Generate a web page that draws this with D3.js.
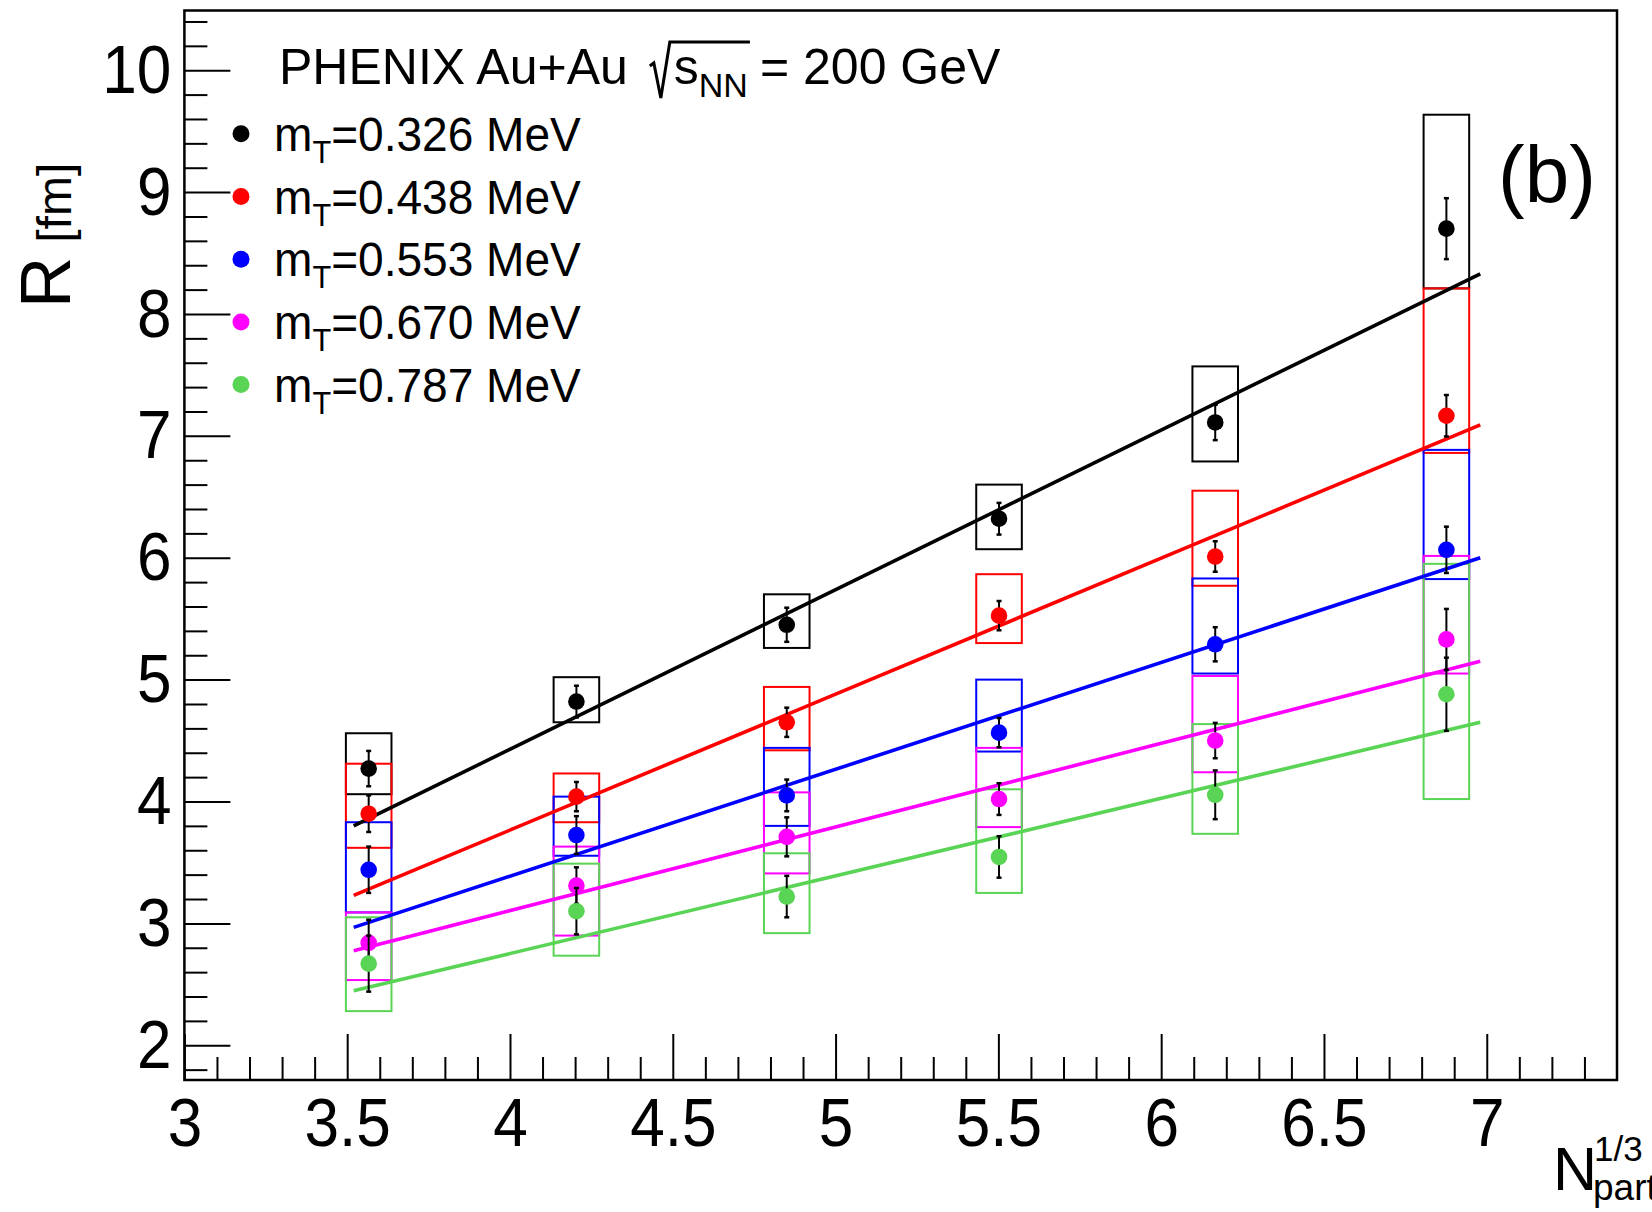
<!DOCTYPE html>
<html><head><meta charset="utf-8">
<script src="https://cdn.jsdelivr.net/npm/d3@7"></script>
<style>body{margin:0;background:#fff}svg{display:block}</style>
</head><body><svg id="c" width="1652" height="1212"></svg>
<script>
// ---------------- data ----------------
const xNpart = [3.566, 4.204, 4.850, 5.502, 6.166, 6.876];
const mTLabels = ["0.326", "0.438", "0.553", "0.670", "0.787"];
const seriesColors = ["#000000", "#ff0000", "#0000ff", "#ff00ff", "#59d454"];

const valBlack = [4.27, 4.82, 5.45, 6.32, 7.11, 8.70];
const errBlack = [0.145, 0.13, 0.14, 0.13, 0.145, 0.25];
const sysLoBlack = [4.06, 4.65, 5.26, 6.07, 6.79, 8.21];
const sysHiBlack = [4.56, 5.02, 5.70, 6.60, 7.57, 9.635];

const valRed = [3.90, 4.04, 4.65, 5.525, 6.01, 7.165];
const errRed = [0.15, 0.12, 0.12, 0.12, 0.125, 0.17];
const sysLoRed = [3.62, 3.83, 4.42, 5.30, 5.77, 6.86];
const sysHiRed = [4.31, 4.23, 4.94, 5.865, 6.55, 8.21];

const valBlue = [3.44, 3.725, 4.05, 4.565, 5.29, 6.065];
const errBlue = [0.19, 0.155, 0.13, 0.12, 0.14, 0.19];
const sysLoBlue = [3.09, 3.555, 3.80, 4.41, 5.05, 5.825];
const sysHiBlue = [3.83, 4.04, 4.44, 5.00, 5.83, 6.885];

const valMagenta = [2.84, 3.31, 3.71, 4.02, 4.50, 5.33];
const errMagenta = [0.19, 0.15, 0.16, 0.13, 0.145, 0.25];
const sysLoMagenta = [2.535, 2.90, 3.41, 3.79, 4.24, 5.05];
const sysHiMagenta = [3.09, 3.63, 4.075, 4.44, 5.03, 6.015];

const valGreen = [2.67, 3.10, 3.22, 3.545, 4.055, 4.88];
const errGreen = [0.23, 0.19, 0.17, 0.17, 0.2, 0.3];
const sysLoGreen = [2.28, 2.735, 2.92, 3.25, 3.735, 4.02];
const sysHiGreen = [3.05, 3.49, 3.575, 4.10, 4.635, 5.95];

const fitX = [3.52, 6.98];
const fitBlack = [3.80, 8.33];
const fitRed = [3.23, 7.09];
const fitBlue = [2.967, 6.00];
const fitMagenta = [2.776, 5.15];
const fitGreen = [2.447, 4.65];

const xTickValues = [3, 3.5, 4, 4.5, 5, 5.5, 6, 6.5, 7];
const xTickLabels = ["3", "3.5", "4", "4.5", "5", "5.5", "6", "6.5", "7"];
const yTickValues = [2, 3, 4, 5, 6, 7, 8, 9, 10];
const yTickLabels = ["2", "3", "4", "5", "6", "7", "8", "9", "10"];

const boxHalfWidth = 0.07;

const series = [
  {val: valBlack, err: errBlack, lo: sysLoBlack, hi: sysHiBlack, fit: fitBlack},
  {val: valRed, err: errRed, lo: sysLoRed, hi: sysHiRed, fit: fitRed},
  {val: valBlue, err: errBlue, lo: sysLoBlue, hi: sysHiBlue, fit: fitBlue},
  {val: valMagenta, err: errMagenta, lo: sysLoMagenta, hi: sysHiMagenta, fit: fitMagenta},
  {val: valGreen, err: errGreen, lo: sysLoGreen, hi: sysHiGreen, fit: fitGreen}
].map((s, i) => Object.assign(s, {color: seriesColors[i], label: mTLabels[i]}));

// ---------------- layout ----------------
const FONT = "'Liberation Sans', Arial, Helvetica, sans-serif";
const L = 184.4, R = 1617, T = 10.5, B = 1080;
const NARROW = 0.9;
const svg = d3.select("#c").style("font-family", FONT);
const x = d3.scaleLinear().domain([3, 7.4]).range([L, R]);
const y = d3.scaleLinear().domain([1.715, 10.49]).range([B, T]);

const xMinor = d3.range(31, 74).map(v => v / 10).filter(v => Math.abs(v * 2 - Math.round(v * 2)) > 1e-6);
const yMinor = d3.range(9, 53).map(v => v / 5).filter(v => Math.abs(v - Math.round(v)) > 1e-6);

// minor ticks
svg.append("g").attr("transform", `translate(0,${B})`)
  .call(d3.axisBottom(x).tickValues(xMinor).tickSize(-23).tickFormat(""))
  .call(g => g.select(".domain").remove());
svg.append("g").attr("transform", `translate(${L},0)`)
  .call(d3.axisLeft(y).tickValues(yMinor).tickSize(-23).tickFormat(""))
  .call(g => g.select(".domain").remove());
// major ticks
svg.append("g").attr("transform", `translate(0,${B})`)
  .call(d3.axisBottom(x).tickValues(xTickValues).tickSize(-46).tickPadding(17)
    .tickFormat((d, i) => xTickLabels[i]))
  .call(g => g.select(".domain").remove())
  .call(g => g.selectAll("text").attr("font-size", 69).attr("font-family", FONT).attr("fill", "#000")
    .attr("transform", `scale(${NARROW},1)`));
svg.append("g").attr("transform", `translate(${L},0)`)
  .call(d3.axisLeft(y).tickValues(yTickValues).tickSize(-46).tickPadding(13)
    .tickFormat((d, i) => yTickLabels[i]))
  .call(g => g.select(".domain").remove())
  .call(g => g.selectAll("text").attr("font-size", 69).attr("font-family", FONT).attr("fill", "#000")
    .attr("x", -13 / NARROW).attr("transform", `scale(${NARROW},1)`));
svg.selectAll(".tick line").attr("stroke", "#000").attr("stroke-width", 2);

// frame
svg.append("rect").attr("x", L).attr("y", T).attr("width", R - L).attr("height", B - T)
  .attr("fill", "none").attr("stroke", "#000").attr("stroke-width", 2.5);

const plot = svg.append("g");

// systematic boxes
series.forEach(s => {
  plot.append("g").selectAll("rect").data(xNpart).join("rect")
    .attr("x", d => x(d - boxHalfWidth))
    .attr("width", d => x(d + boxHalfWidth) - x(d - boxHalfWidth))
    .attr("y", (d, i) => y(s.hi[i]))
    .attr("height", (d, i) => y(s.lo[i]) - y(s.hi[i]))
    .attr("fill", "none").attr("stroke", s.color).attr("stroke-width", 2);
});

// fit lines
const line = d3.line().x((d, i) => x(fitX[i])).y(d => y(d));
series.forEach(s => {
  plot.append("path").datum(s.fit).attr("d", line)
    .attr("fill", "none").attr("stroke", s.color).attr("stroke-width", 3.6);
});

// error bars + points
series.forEach(s => {
  const g = plot.append("g");
  xNpart.forEach((xv, i) => {
    const cx = x(xv), y1 = y(s.val[i] + s.err[i]), y2 = y(s.val[i] - s.err[i]);
    g.append("line").attr("x1", cx).attr("x2", cx).attr("y1", y1).attr("y2", y2)
      .attr("stroke", "#000").attr("stroke-width", 2);
    [y1, y2].forEach(yy => g.append("line").attr("x1", cx - 2.5).attr("x2", cx + 2.5)
      .attr("y1", yy).attr("y2", yy).attr("stroke", "#000").attr("stroke-width", 2.5));
  });
  g.selectAll("circle").data(s.val).join("circle")
    .attr("cx", (d, i) => x(xNpart[i])).attr("cy", d => y(d)).attr("r", 8.3)
    .attr("fill", s.color);
});

// ---------------- texts ----------------
// header
const hdr = svg.append("g");
const t1 = hdr.append("text").attr("x", 279).attr("y", 84).attr("font-size", 50).text("PHENIX Au+Au");
const t1End = 279 + t1.node().getComputedTextLength();
const rx = t1End + 22;
const sText = hdr.append("text").attr("x", rx + 24).attr("y", 84).attr("font-size", 50);
sText.append("tspan").text("s");
sText.append("tspan").attr("font-size", 34).attr("dy", 13).text("NN");
const sEnd = rx + 24 + sText.node().getComputedTextLength();
hdr.append("path")
  .attr("d", `M${rx},${66} L${rx + 4},${63} L${rx + 11},${98} L${rx + 20},${42} L${sEnd + 2},${42}`)
  .attr("fill", "none").attr("stroke", "#000").attr("stroke-width", 3).attr("stroke-linejoin", "miter");
hdr.append("text").attr("x", sEnd + 12).attr("y", 84).attr("font-size", 50).text("= 200 GeV");

// legend
series.forEach((s, i) => {
  const cy = 133.8 + i * 62.7;
  svg.append("circle").attr("cx", 241).attr("cy", cy).attr("r", 8.5).attr("fill", s.color);
  const t = svg.append("text").attr("transform", `translate(274,${cy + 17}) scale(0.96,1)`)
    .attr("x", 0).attr("y", 0).attr("font-size", 48);
  t.append("tspan").text("m");
  t.append("tspan").attr("font-size", 32).attr("dy", 12).text("T");
  t.append("tspan").attr("dy", -12).text("=" + s.label + " MeV");
});

// (b)
svg.append("text").attr("x", 1498).attr("y", 202).attr("font-size", 80).text("(b)");

// y title
const yt = svg.append("text").attr("transform", "translate(70,308) rotate(-90)").attr("font-size", 71);
yt.append("tspan").text("R");
yt.append("tspan").attr("font-size", 48).attr("dx", 14).attr("dy", 1).text("[fm]");

// x title
const xt = svg.append("g");
xt.append("text").attr("x", 1553).attr("y", 1190).attr("font-size", 61).text("N");
xt.append("text").attr("x", 1594).attr("y", 1161).attr("font-size", 35).text("1/3");
xt.append("text").attr("x", 1593).attr("y", 1200).attr("font-size", 37).text("part");
</script></body></html>
